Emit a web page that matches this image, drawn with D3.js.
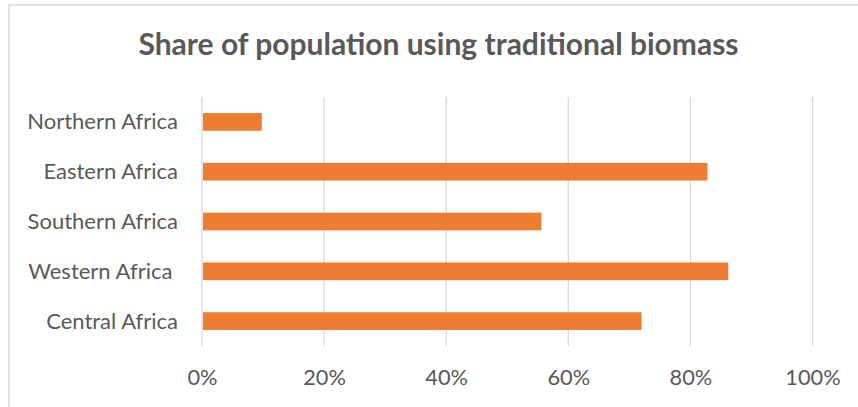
<!DOCTYPE html>
<html>
<head>
<meta charset="utf-8">
<script src="https://cdn.jsdelivr.net/npm/d3@7"></script>
<style>
  html, body { margin: 0; padding: 0; background: #fff; }
  svg { display: block; }
  .cat text { white-space: pre; }
</style>
</head>
<body>
<svg id="chart" width="858" height="407"></svg>
<script>
// Regions listed top to bottom as they appear on the chart
const categories = ["Northern Africa", "Eastern Africa", "Southern Africa", "Western Africa ", "Central Africa"];
// Share of population using traditional biomass, percent
const shares = [9.8, 82.8, 55.6, 86.2, 72.0];
const tickValues = [0, 20, 40, 60, 80, 100];
const chartTitle = "Share of population using traditional biomass";

const svg = d3.select("#chart");
const W = 858, H = 407;
const font = "Lato, 'Open Sans', sans-serif";
const textColor = "#595959";
const gridColor = "#d9d9d9";
const barColor = "#ED7D31";

const plot = { left: 202, right: 812.5, top: 97, bottom: 346 };

// Chart area frame
svg.append("rect")
  .attr("x", 0).attr("y", 0).attr("width", W).attr("height", H)
  .attr("fill", "#fff");
svg.append("rect")
  .attr("x", 9).attr("y", 5).attr("width", W + 20).attr("height", H + 20)
  .attr("fill", "none").attr("stroke", gridColor).attr("stroke-width", 1.5);

const x = d3.scaleLinear().domain([0, 100]).range([plot.left, plot.right]);
const y = d3.scaleBand().domain(categories).range([plot.top, plot.bottom])
  .paddingInner(0.645).paddingOuter(0.3225);

// Vertical gridlines
svg.append("g").selectAll("line").data(tickValues).join("line")
  .attr("x1", d => x(d)).attr("x2", d => x(d))
  .attr("y1", plot.top).attr("y2", plot.bottom)
  .attr("stroke", gridColor).attr("stroke-width", 1.3);

// Bars
svg.append("g").selectAll("rect").data(categories).join("rect")
  .attr("x", x(0) + 1)
  .attr("y", d => y(d))
  .attr("width", (d, i) => x(shares[i]) - x(0) - 1)
  .attr("height", y.bandwidth())
  .attr("fill", barColor);

// Category axis labels
const yAxis = d3.axisLeft(y).tickSize(0).tickPadding(0);
const gy = svg.append("g").attr("class", "cat")
  .attr("transform", `translate(${plot.left - 24},0)`).call(yAxis);
gy.select(".domain").remove();
gy.selectAll("text")
  .attr("fill", textColor)
  .attr("font-family", font)
  .attr("font-size", 22)
  .attr("dy", "0.34em");

// Value axis labels
const xAxis = d3.axisBottom(x).tickValues(tickValues).tickSize(0).tickPadding(0)
  .tickFormat(d => d + "%");
const gx = svg.append("g").attr("transform", `translate(0,${plot.bottom})`).call(xAxis);
gx.select(".domain").remove();
gx.selectAll("text")
  .attr("fill", textColor)
  .attr("font-family", font)
  .attr("font-size", 21.8)
  .attr("dy", null)
  .attr("y", 39);

// Title
svg.append("text")
  .attr("x", 438.5).attr("y", 55)
  .attr("text-anchor", "middle")
  .attr("fill", textColor)
  .attr("font-family", font)
  .attr("font-weight", "bold")
  .attr("font-size", 30)
  .text(chartTitle);
</script>
</body>
</html>
